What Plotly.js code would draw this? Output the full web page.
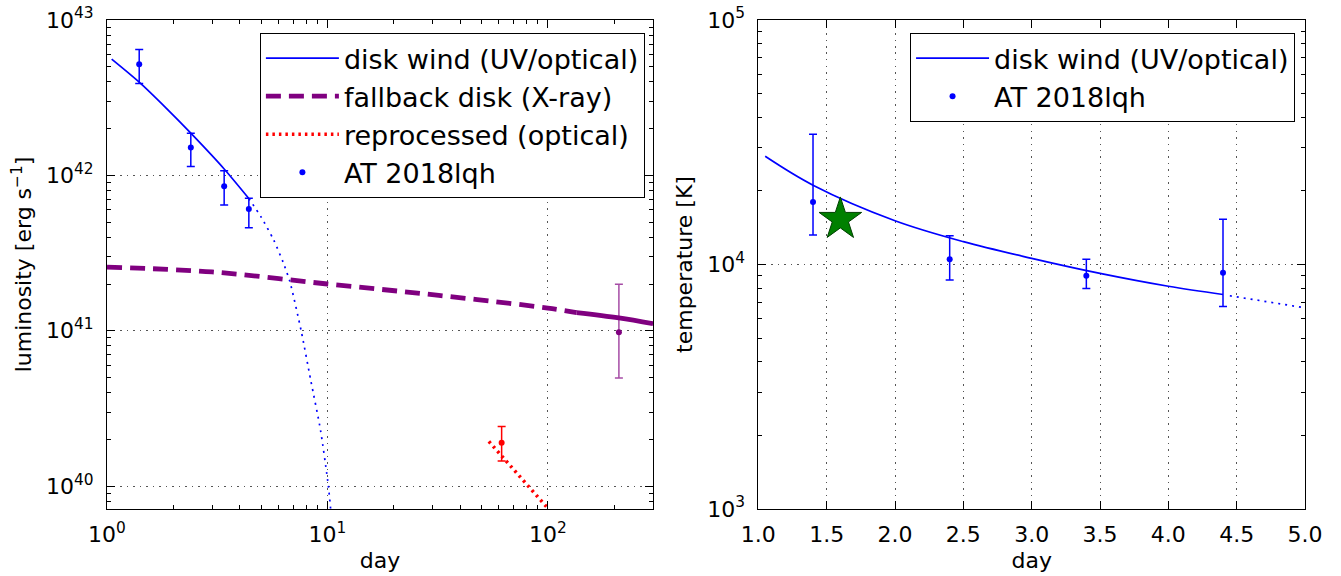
<!DOCTYPE html>
<html>
<head>
<meta charset="utf-8">
<script src="https://cdn.plot.ly/plotly-3.0.1.min.js"></script>
<style>html,body{margin:0;padding:0;background:#fff;}#chart{width:1341px;height:576px;}</style>
</head>
<body>
<div id="chart"></div>
<script>
// ---------- Left panel: luminosity ----------
const windDay = [1.05, 1.4, 1.86, 2.4, 3.4, 4.4];
const windLum = [5.6e42, 3.98e42, 2.7e42, 1.87e42, 1.1e42, 7.1e41];
const windExtDay = [4.4, 5.0, 5.7, 6.3, 6.75, 7.6, 8.4, 9.3, 10.1, 10.4];
const windExtLum = [7.1e41, 5.4e41, 3.85e41, 2.75e41, 2.08e41, 1.0e41, 4.8e40, 2.3e40, 1.0e40, 6.5e39];
const fallDashDay = [1, 3, 10, 32, 100, 135];
const fallDashLum = [2.57e41, 2.39e41, 2.0e41, 1.69e41, 1.40e41, 1.31e41];
const fallSolidDay = [135, 210, 300];
const fallSolidLum = [1.31e41, 1.21e41, 1.11e41];
const reprDay = [54, 100];
const reprLum = [1.94e40, 7.2e39];
const obsDay = [1.4, 2.4, 3.4, 4.4];
const obsLum = [5.2e42, 1.51e42, 8.5e41, 6.08e41];
const obsLumHi = [6.45e42, 1.87e42, 1.07e42, 7.13e41];
const obsLumLo = [3.9e42, 1.14e42, 6.45e41, 4.6e41];
const xrayDay = [210];
const xrayLum = [9.8e40];
const xrayHi = [1.99e41];
const xrayLo = [4.96e40];
const optDay = [61.7];
const optLum = [1.9e40];
const optHi = [2.42e40];
const optLo = [1.45e40];

// ---------- Right panel: temperature ----------
const tDay = [1.05, 1.4, 2.0, 2.5, 3.0, 3.5, 4.0, 4.4];
const tTemp = [2.77e4, 2.11e4, 1.51e4, 1.24e4, 1.06e4, 9.2e3, 8.15e3, 7.54e3];
const tExtDay = [4.45, 5.0];
const tExtTemp = [7.45e3, 6.65e3];
const tObsDay = [1.4, 2.4, 3.4, 4.4];
const tObsTemp = [1.8e4, 1.05e4, 9.0e3, 9.25e3];
const tObsHi = [3.41e4, 1.31e4, 1.05e4, 1.53e4];
const tObsLo = [1.32e4, 8.65e3, 7.98e3, 6.73e3];
const starDay = [1.6];
const starTemp = [1.53e4];

const legendNames = ['disk wind (UV/optical)', 'fallback disk (X-ray)', 'reprocessed (optical)', 'AT 2018lqh'];
const lumTickVals = [1e40, 1e41, 1e42, 1e43];
const lumTickText = ['10<sup>40</sup>', '10<sup>41</sup>', '10<sup>42</sup>', '10<sup>43</sup>'];
const dayLogTickVals = [1, 10, 100];
const dayLogTickText = ['10<sup>0</sup>', '10<sup>1</sup>', '10<sup>2</sup>'];
const tempTickVals = [1e3, 1e4, 1e5];
const tempTickText = ['10<sup>3</sup>', '10<sup>4</sup>', '10<sup>5</sup>'];

const BLUE = '#0000ff', PURPLE = '#800080', RED = '#ff0000';
const FONT = 'DejaVu Sans, sans-serif';

function errs(v, hi, lo) {
  return {type: 'data', symmetric: false,
    array: v.map((y, i) => hi[i] - y), arrayminus: v.map((y, i) => y - lo[i])};
}
function minorLog(lo, hi) {
  const out = [];
  for (let e = lo; e <= hi; e++) for (let m = 2; m <= 9; m++) out.push(m * Math.pow(10, e));
  return out;
}

const traces = [
  {x: windDay, y: windLum, xaxis: 'x', yaxis: 'y', mode: 'lines', name: legendNames[0],
   line: {color: BLUE, width: 1.7, shape: 'spline', smoothing: 0.8}, legend: 'legend'},
  {x: windExtDay, y: windExtLum, xaxis: 'x', yaxis: 'y', mode: 'lines', showlegend: false,
   line: {color: BLUE, width: 1.7, dash: '2px,5px', shape: 'spline', smoothing: 0.6}},
  {x: fallDashDay, y: fallDashLum, xaxis: 'x', yaxis: 'y', mode: 'lines', name: legendNames[1],
   line: {color: PURPLE, width: 4.8, dash: '15px,8px', shape: 'spline'}, legend: 'legend'},
  {x: fallSolidDay, y: fallSolidLum, xaxis: 'x', yaxis: 'y', mode: 'lines', showlegend: false,
   line: {color: PURPLE, width: 4.8, shape: 'spline'}},
  {x: reprDay, y: reprLum, xaxis: 'x', yaxis: 'y', mode: 'lines', name: legendNames[2],
   line: {color: RED, width: 3.5, dash: '2.5px,4px'}, legend: 'legend'},
  {x: obsDay, y: obsLum, xaxis: 'x', yaxis: 'y', mode: 'markers', name: legendNames[3],
   marker: {color: BLUE, size: 6}, legend: 'legend',
   error_y: Object.assign(errs(obsLum, obsLumHi, obsLumLo), {color: BLUE, thickness: 1.5, width: 4})},
  {x: xrayDay, y: xrayLum, xaxis: 'x', yaxis: 'y', mode: 'markers', showlegend: false,
   marker: {color: PURPLE, size: 6},
   error_y: Object.assign(errs(xrayLum, xrayHi, xrayLo), {color: 'rgba(128,0,128,0.7)', thickness: 1.5, width: 4})},
  {x: optDay, y: optLum, xaxis: 'x', yaxis: 'y', mode: 'markers', showlegend: false,
   marker: {color: RED, size: 6},
   error_y: Object.assign(errs(optLum, optHi, optLo), {color: RED, thickness: 1.5, width: 4})},

  {x: tDay, y: tTemp, xaxis: 'x2', yaxis: 'y2', mode: 'lines', name: legendNames[0],
   line: {color: BLUE, width: 1.7, shape: 'spline'}, legend: 'legend2'},
  {x: tExtDay, y: tExtTemp, xaxis: 'x2', yaxis: 'y2', mode: 'lines', showlegend: false,
   line: {color: BLUE, width: 1.7, dash: '2px,5px'}},
  {x: tObsDay, y: tObsTemp, xaxis: 'x2', yaxis: 'y2', mode: 'markers', name: legendNames[3],
   marker: {color: BLUE, size: 6}, legend: 'legend2',
   error_y: Object.assign(errs(tObsTemp, tObsHi, tObsLo), {color: BLUE, thickness: 1.5, width: 4})},
  {x: starDay, y: starTemp, xaxis: 'x2', yaxis: 'y2', mode: 'markers', showlegend: false,
   marker: {symbol: 'star', color: '#008000', size: 32, line: {color: '#004000', width: 1}}}
];

const tickFont = {family: FONT, size: 22, color: '#000'};
const titleFont = {family: FONT, size: 22, color: '#000'};
const common = {
  showline: true, linecolor: '#000', linewidth: 1, mirror: 'ticks',
  ticks: 'inside', ticklen: 8, tickwidth: 1, tickcolor: '#000',
  showgrid: true, gridcolor: '#555', griddash: '1.5px,5px', gridwidth: 1,
  zeroline: false, tickfont: tickFont, automargin: false
};
function ax(extra) { return Object.assign({}, common, extra); }

const layout = {
  width: 1341, height: 576,
  margin: {l: 107, r: 36, t: 20, b: 67},
  paper_bgcolor: '#fff', plot_bgcolor: '#fff',
  font: {family: FONT, size: 22, color: '#000'},
  xaxis: ax({domain: [0, 0.4558], type: 'log', range: [0, Math.log10(300)], anchor: 'y',
    tickmode: 'array', tickvals: dayLogTickVals, ticktext: dayLogTickText, ticklabelstandoff: 6,
    minor: {tickmode: 'array', tickvals: minorLog(0, 2), ticks: 'inside', ticklen: 4, tickcolor: '#000', showgrid: false},
    title: {text: 'day', font: titleFont, standoff: 6}}),
  yaxis: ax({domain: [0, 1], type: 'log', range: [39.853, 43], anchor: 'x',
    tickmode: 'array', tickvals: lumTickVals, ticktext: lumTickText, ticklabelstandoff: 8,
    minor: {tickmode: 'array', tickvals: minorLog(39, 42), ticks: 'inside', ticklen: 4, tickcolor: '#000', showgrid: false},
    title: {text: 'luminosity [erg s<sup>\u22121</sup>]', font: titleFont, standoff: 8}}),
  xaxis2: ax({domain: [0.5437, 1], range: [1, 5], anchor: 'y2',
    tickmode: 'linear', tick0: 1, dtick: 0.5, tickformat: '.1f', ticklabelstandoff: 6,
    title: {text: 'day', font: titleFont, standoff: 6}}),
  yaxis2: ax({domain: [0, 1], type: 'log', range: [3, 5], anchor: 'x2',
    tickmode: 'array', tickvals: tempTickVals, ticktext: tempTickText, ticklabelstandoff: 8,
    minor: {tickmode: 'array', tickvals: minorLog(3, 4), ticks: 'inside', ticklen: 4, tickcolor: '#000', showgrid: false},
    title: {text: 'temperature [K]', font: titleFont, standoff: 8}}),
  legend: {x: 0.449, y: 0.9734, xanchor: 'right', yanchor: 'top', bgcolor: '#fff',
    bordercolor: '#000', borderwidth: 1, font: {family: FONT, size: 27, color: '#000'},
    itemwidth: 73, tracegroupgap: 0},
  legend2: {x: 0.9917, y: 0.9734, xanchor: 'right', yanchor: 'top', bgcolor: '#fff',
    bordercolor: '#000', borderwidth: 1, font: {family: FONT, size: 27, color: '#000'},
    itemwidth: 73, tracegroupgap: 0},
  showlegend: true
};

Plotly.newPlot('chart', traces, layout, {displayModeBar: false, staticPlot: true});
</script>
</body>
</html>
